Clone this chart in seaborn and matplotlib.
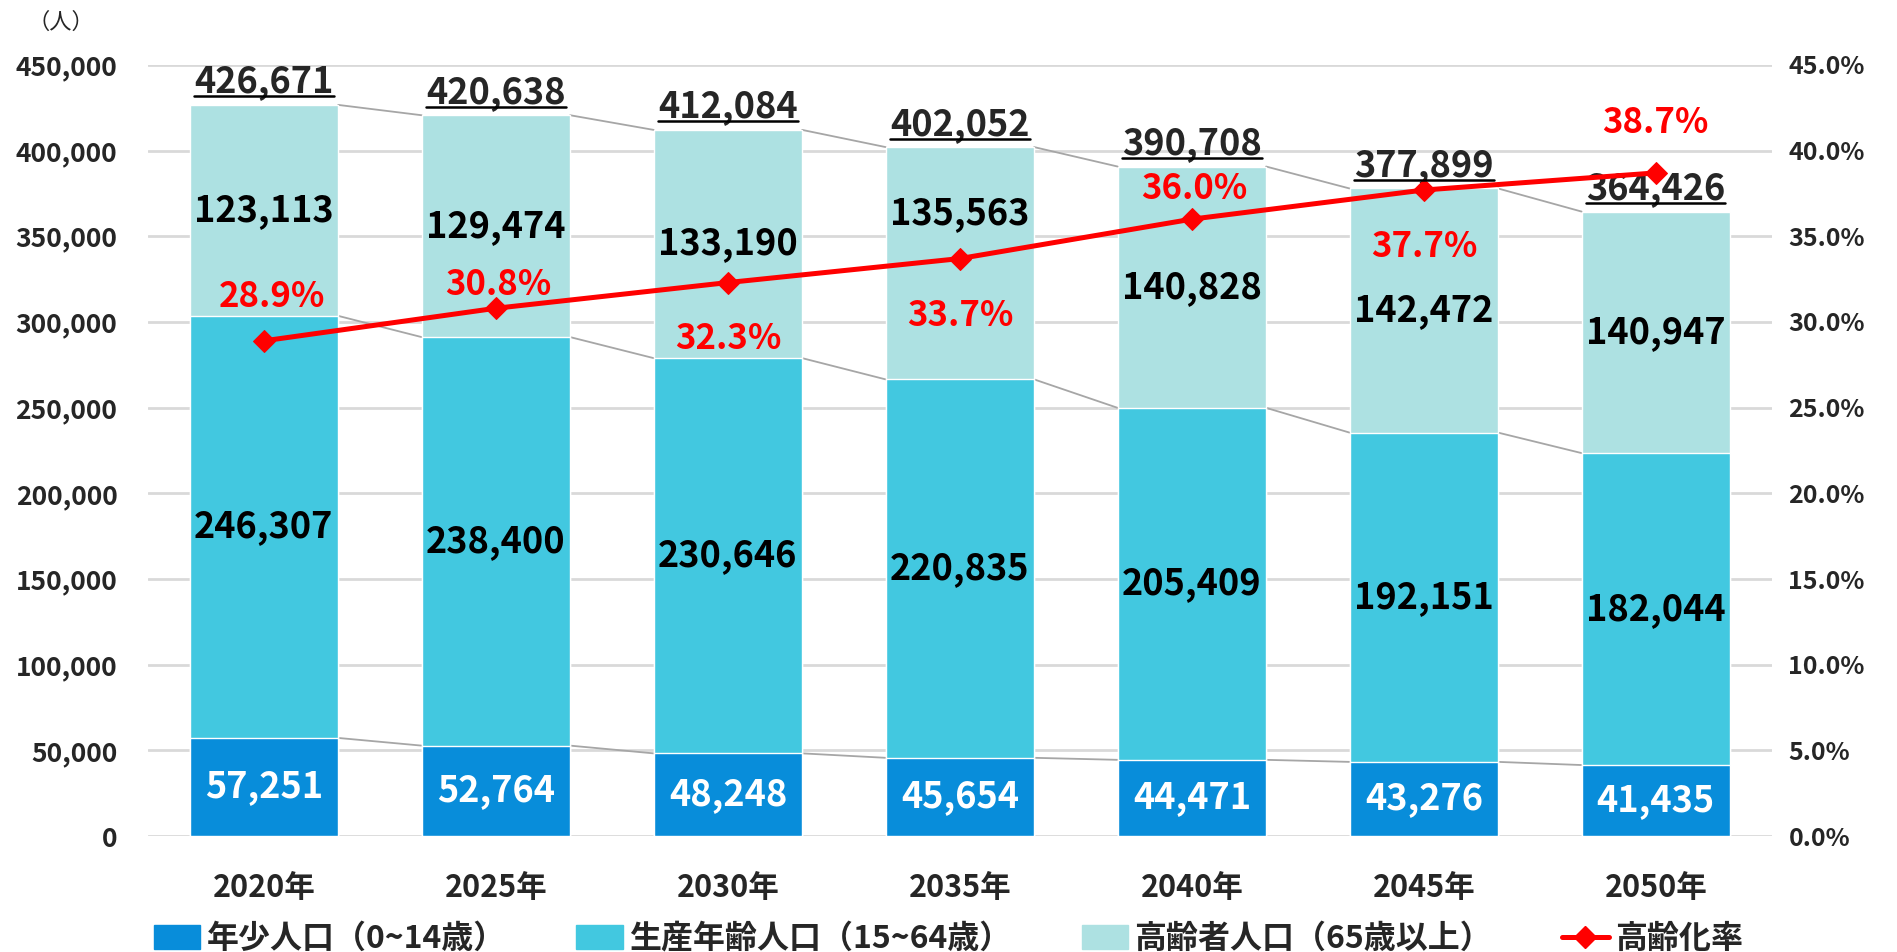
import numpy as np
import pandas as pd
import matplotlib.pyplot as plt
import seaborn as sns
from matplotlib.patches import Patch
from matplotlib.lines import Line2D

# data
years = ["2020年", "2025年", "2030年", "2035年", "2040年", "2045年", "2050年"]
young = [57251, 52764, 48248, 45654, 44471, 43276, 41435]
working = [246307, 238400, 230646, 220835, 205409, 192151, 182044]
elderly = [123113, 129474, 133190, 135563, 140828, 142472, 140947]
totals = [426671, 420638, 412084, 402052, 390708, 377899, 364426]
aging_rate = [28.9, 30.8, 32.3, 33.7, 36.0, 37.7, 38.7]

legend_labels = ["年少人口（0~14歳）", "生産年齢人口（15~64歳）", "高齢者人口（65歳以上）", "高齢化率"]

# label nudges (points)
pct_offsets = [(6, 32), (2, 17), (0, -40), (0, -41), (2, 22), (0, -41), (0, 36)]
elderly_nudge = [0, 0, 0, 36, 0, 0, 0]

c_young = "#088DDA"
c_work = "#42C8E0"
c_old = "#ADE1E2"
c_line = "#FF0000"

sns.set_style("white")
plt.rcParams['font.family'] = ['Noto Sans CJK JP', 'DejaVu Sans']

df = pd.DataFrame({"year": years, "young": young, "working": working, "elderly": elderly})
df["cum_work"] = df["young"] + df["working"]
df["cum_all"] = df["cum_work"] + df["elderly"]

fig = plt.figure(figsize=(18.97, 9.52), dpi=100)
ax = fig.add_axes([0.078, 0.1218, 0.856, 0.81])

# stacked bars drawn as overlapping cumulative bars
sns.barplot(data=df, x="year", y="cum_all", color=c_old, width=0.64, ax=ax, saturation=1, zorder=3)
sns.barplot(data=df, x="year", y="cum_work", color=c_work, width=0.64, ax=ax, saturation=1, zorder=3)
sns.barplot(data=df, x="year", y="young", color=c_young, width=0.64, ax=ax, saturation=1, zorder=3)

# connector lines between bars
half = 0.32
for col in ["young", "cum_work", "cum_all"]:
    vals = df[col].values
    for i in range(len(vals) - 1):
        ax.plot([i + half, i + 1 - half], [vals[i], vals[i + 1]], color="#A6A6A6", lw=1.3, zorder=2)

ax.set_ylim(0, 450000)
ax.set_xlim(-0.5, len(years) - 0.5)
ax.set_yticks(np.arange(0, 450001, 50000))
ax.set_yticklabels([f"{v:,}" for v in range(0, 450001, 50000)], fontsize=19, fontweight="bold")
ax.grid(axis="y", color="#D9D9D9", lw=2, zorder=0)
ax.set_axisbelow(True)
for s in ax.spines.values():
    s.set_visible(False)
ax.set_xlabel("")
ax.set_ylabel("")
ax.tick_params(axis="x", length=0, pad=26, labelsize=22)
ax.tick_params(axis="y", length=0, pad=22)
for t in ax.get_xticklabels():
    t.set_fontweight("bold")

# segment labels
lab_kw = dict(ha="center", va="center", fontsize=26, fontweight="bold", zorder=5)
for i in range(len(years)):
    ax.text(i, young[i] / 2, f"{young[i]:,}", color="white", **lab_kw)
    ax.text(i, young[i] + working[i] / 2, f"{working[i]:,}", color="black", **lab_kw)
    ax.annotate(f"{elderly[i]:,}", (i, young[i] + working[i] + elderly[i] / 2),
                xytext=(0, elderly_nudge[i]), textcoords="offset points", color="black", **lab_kw)

# totals with underline
total_texts = []
for i, tot in enumerate(totals):
    t = ax.annotate(f"{tot:,}", (i, tot), xytext=(0, 9), textcoords="offset points",
                    ha="center", va="baseline", fontsize=26, fontweight="bold", zorder=6)
    total_texts.append(t)

# aging rate line
ax2 = ax.twinx()
sns.lineplot(x=np.arange(len(years)), y=aging_rate, ax=ax2, color=c_line, lw=3.6,
             marker="D", markersize=11, markeredgecolor=c_line, zorder=7)
ax2.set_ylim(0, 45)
ax2.set_xlim(-0.5, len(years) - 0.5)
ax2.set_yticks(np.arange(0, 45.1, 5))
ax2.set_yticklabels([f"{v:.1f}%" for v in np.arange(0, 45.1, 5)], fontsize=18, fontweight="bold")
ax2.tick_params(axis="y", length=0, pad=12)
for s in ax2.spines.values():
    s.set_visible(False)
ax2.set_ylabel("")
for i, r in enumerate(aging_rate):
    dx, dy = pct_offsets[i]
    ax2.annotate(f"{r:.1f}%", (i, r), xytext=(dx, dy), textcoords="offset points",
                 ha="center", va="center", color=c_line, fontsize=25, fontweight="bold", zorder=8)

fig.text(0.032, 0.977, "（人）", ha="center", va="center", fontsize=16)

handles = [Patch(color=c_young), Patch(color=c_work), Patch(color=c_old),
           Line2D([], [], color=c_line, lw=3.6, marker="D", markersize=11)]
fig.legend(handles, legend_labels, loc="center", bbox_to_anchor=(0.5, 0.0137), ncol=4,
           frameon=False, prop={"size": 23, "weight": "bold"}, handlelength=1.45, handleheight=0.75,
           handletextpad=0.2, columnspacing=2.2, borderpad=0)

# underline the totals
fig.canvas.draw()
renderer = fig.canvas.get_renderer()
inv = fig.transFigure.inverted()
for t in total_texts:
    bb = t.get_window_extent(renderer)
    base_y = ax.transData.transform((0, t.xy[1]))[1] + 9 * fig.dpi / 72 - 4
    (x0, y0) = inv.transform((bb.x0, base_y))
    (x1, _) = inv.transform((bb.x1, base_y))
    fig.add_artist(Line2D([x0, x1], [y0, y0], color="black", lw=1.8, transform=fig.transFigure))

fig.savefig("out.png", dpi=100)
